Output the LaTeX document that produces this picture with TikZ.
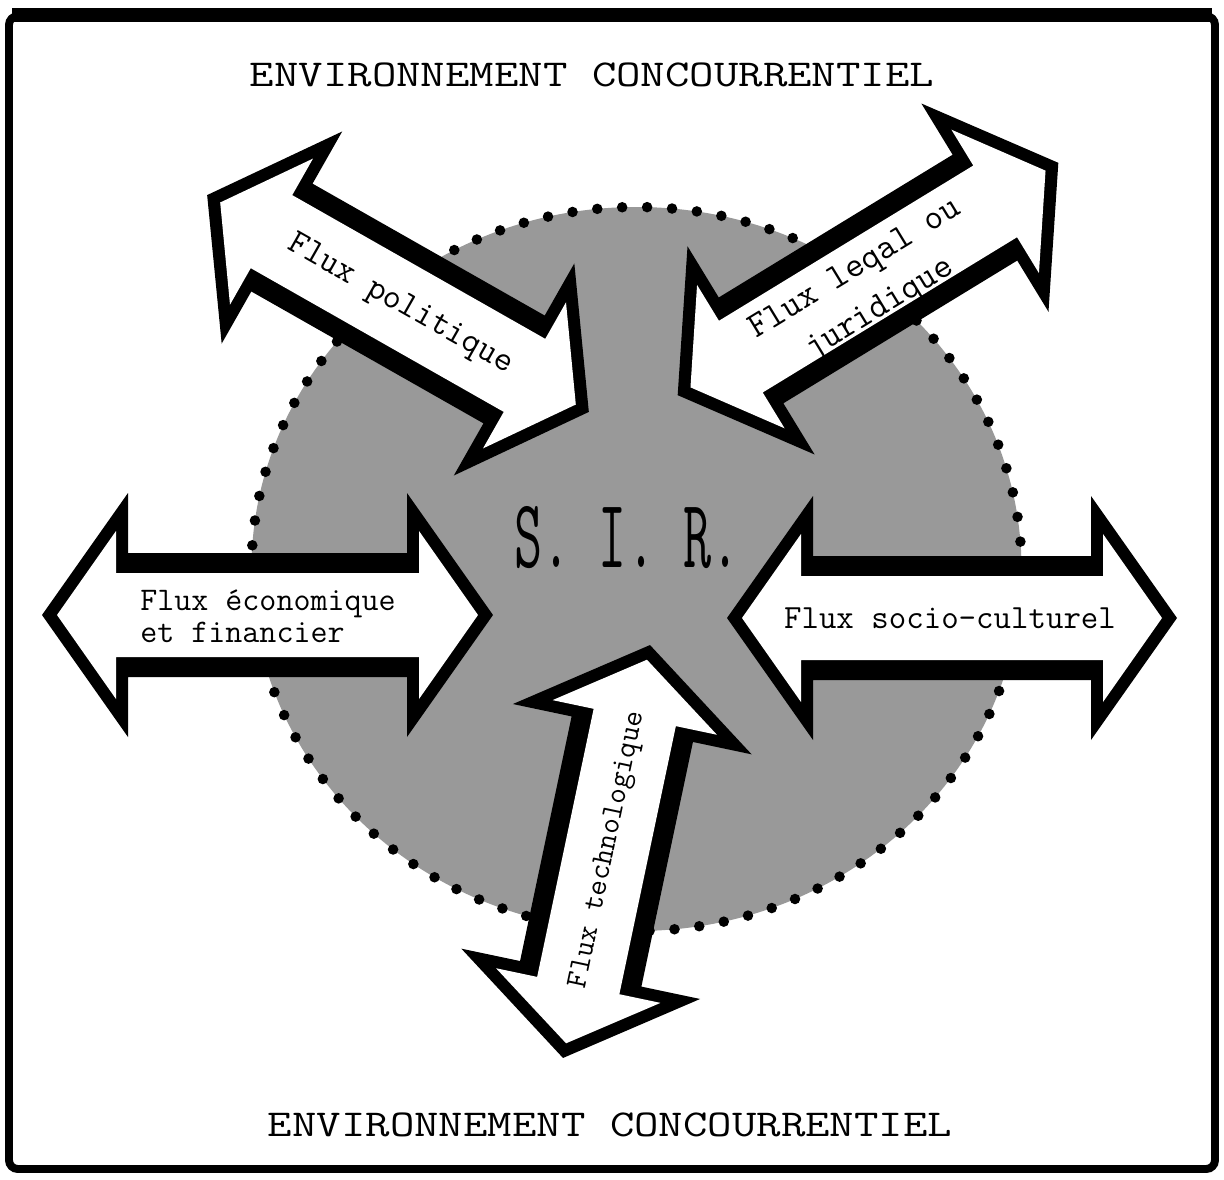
\documentclass[tikz,border=0pt]{standalone}
\usepackage{fontspec}
\usepackage{graphicx}
\tikzset{
  frameline/.style={line width=4.5pt, rounded corners=5pt},
  zone/.style={fill=black!40, draw=black, line width=6pt, line cap=round, dash pattern=on 0pt off 14.2pt},
  envtext/.style={inner sep=0pt, font=\ttfamily\fontsize{27}{30}\selectfont\addfontfeature{FakeBold=0.6}},
  boldlabel/.style={inner sep=0pt, font=\ttfamily\fontsize{#1}{18}\selectfont\addfontfeature{FakeBold=2.6}},
  plainlabel/.style={inner sep=0pt, font=\ttfamily\fontsize{#1}{26.5}\selectfont\addfontfeature{FakeBold=1.6}},
}
% cx, cy, angle, half length
\newcommand{\flowarrow}[4]{%
\begin{scope}[shift={(#1,#2)},rotate=#3]
 \fill[black] (#4,0) -- ({#4-86},122) -- ({#4-86},62) -- ({-#4+86},62) -- ({-#4+86},122) -- (-#4,0)
   -- ({-#4+86},-122) -- ({-#4+86},-62) -- ({#4-86},-62) -- ({#4-86},-122) -- cycle;
 \fill[white] ({#4-15},0) -- ({#4-74},84) -- ({#4-74},42) -- ({-#4+74},42) -- ({-#4+74},84) -- ({-#4+15},0)
   -- ({-#4+74},-84) -- ({-#4+74},-42) -- ({#4-74},-42) -- ({#4-74},-84) -- cycle;
\end{scope}}
\begin{document}
\begin{tikzpicture}[x=0.02cm,y=-0.02cm]
\useasboundingbox (0,0) rectangle (1224,1180);
\fill[white] (0,0) rectangle (1224,1180);
% frame
\draw[frameline] (9,16) rectangle (1215,1169);
\draw[line width=7.5pt] (12,15) -- (1212,15);
% environment labels
\node[envtext] (envtop) at (592,75) {\scalebox{1}[0.8]{ENVIRONNEMENT CONCOURRENTIEL}};
\node[envtext] (envbot) at (610,1125) {\scalebox{1}[0.8]{ENVIRONNEMENT CONCOURRENTIEL}};
% central zone
\path[zone] (636.5,569) ellipse [x radius=385, y radius=362];
\node[inner sep=0pt, font=\ttfamily\fontsize{31}{31}\selectfont\addfontfeature{FakeBold=2.5}] (sir) at (627,538) {\scalebox{1}[1.8]{S. I. R.}};
% arrows
\flowarrow{267.5}{615}{0}{225.5}
\flowarrow{952}{618}{0}{225}
\flowarrow{398}{303.5}{-29.6}{219.5}
\flowarrow{868}{279}{31.4}{223}
\flowarrow{606.5}{851.5}{78.1}{211}
% labels
\node[boldlabel=18.8, align=left] (eco) at (268,616) {Flux économique\\et financier};
\node[boldlabel=19.3] (socio) at (950,618) {Flux socio-culturel};
\node[plainlabel=20, rotate=-29.6] (poli) at (400,305) {Flux politique};
\node[plainlabel=20.5, align=center, rotate=31.4] (legal) at (868,290) {Flux leqal ou\\juridique};
\node[plainlabel=17.3, rotate=78.1] (techno) at (608,850) {Flux technologique};
\end{tikzpicture}
\end{document}
